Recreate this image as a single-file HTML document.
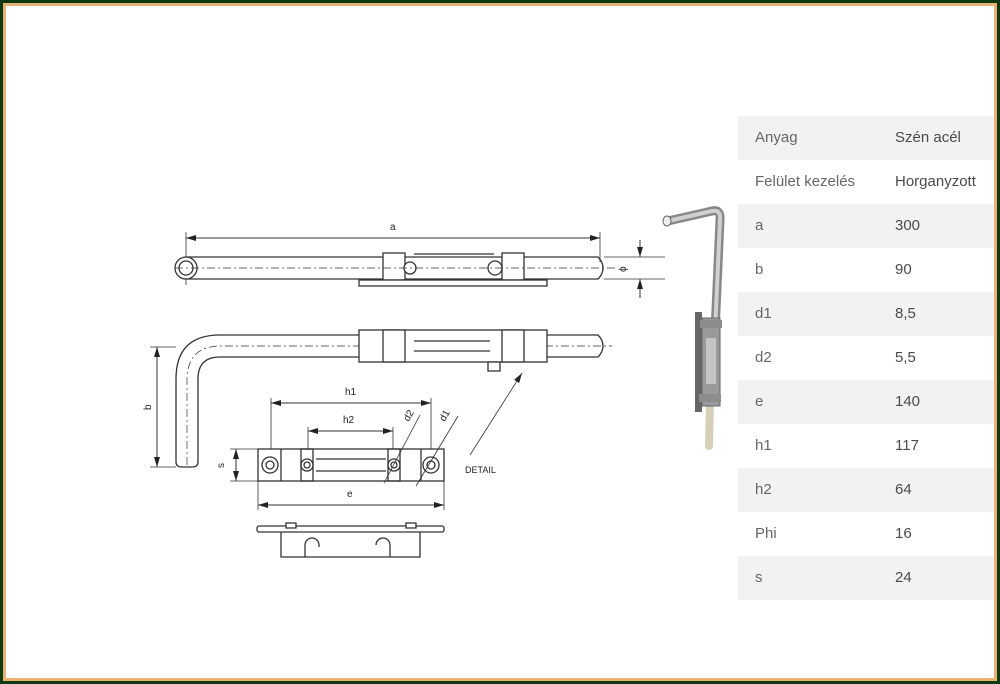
<!DOCTYPE html>
<html><head><meta charset="utf-8"><style>
html,body{margin:0;padding:0;}
body{width:1000px;height:684px;overflow:hidden;background:#0d3a10;font-family:"Liberation Sans",sans-serif;position:relative;}
.o{position:absolute;left:3px;top:3px;width:994px;height:678px;background:#e9b373;}
.i{position:absolute;left:6px;top:6px;width:988px;height:672px;background:#fff;}
.t{position:absolute;left:738px;top:116px;width:256px;overflow:hidden;}
.r{height:44px;line-height:44px;font-size:15px;color:#666;position:relative;}
.r:nth-child(odd){background:#f2f2f2;}
.r span{position:absolute;white-space:nowrap;}
.r .a{left:17px}.r .b{left:157px;color:#4a4a4a}
svg{position:absolute;left:0;top:0;}
</style></head><body>
<div class="o"></div><div class="i"></div>
<div class="t">
<div class="r"><span class="a">Anyag</span><span class="b">Szén acél</span></div>
<div class="r"><span class="a">Felület kezelés</span><span class="b">Horganyzott</span></div>
<div class="r"><span class="a">a</span><span class="b">300</span></div>
<div class="r"><span class="a">b</span><span class="b">90</span></div>
<div class="r"><span class="a">d1</span><span class="b">8,5</span></div>
<div class="r"><span class="a">d2</span><span class="b">5,5</span></div>
<div class="r"><span class="a">e</span><span class="b">140</span></div>
<div class="r"><span class="a">h1</span><span class="b">117</span></div>
<div class="r"><span class="a">h2</span><span class="b">64</span></div>
<div class="r"><span class="a">Phi</span><span class="b">16</span></div>
<div class="r"><span class="a">s</span><span class="b">24</span></div>
</div>
<svg width="1000" height="684" viewBox="0 0 1000 684">
<defs><marker id="ar" markerWidth="10" markerHeight="6" refX="10" refY="3" orient="auto-start-reverse" markerUnits="userSpaceOnUse"><path d="M0,0 L10,3 L0,6z" fill="#222"/></marker></defs>
<g fill="none" stroke="#333" stroke-width="1.3">
<line x1="186" y1="238" x2="600" y2="238" marker-start="url(#ar)" marker-end="url(#ar)" stroke-width="1"/>
<line x1="186" y1="232" x2="186" y2="285" stroke-width="0.8"/>
<line x1="600" y1="232" x2="600" y2="262" stroke-width="0.8"/>
<path d="M186,257 H598 Q603,262 603,268 Q603,274 598,279 H186"/>
<circle cx="186" cy="268" r="11" fill="#fff"/><circle cx="186" cy="268" r="7"/>
<rect x="383" y="253" width="22" height="27" fill="#fff"/>
<rect x="502" y="253" width="22" height="27" fill="#fff"/>
<line x1="414" y1="254" x2="494" y2="254"/>
<circle cx="410" cy="268" r="6" fill="#fff"/><circle cx="495" cy="268" r="7" fill="#fff"/>
<rect x="359" y="280" width="188" height="6" fill="#fff"/>
<line x1="175" y1="268" x2="615" y2="268" stroke-dasharray="8 3 2 3" stroke-width="0.7"/>
<line x1="604" y1="257" x2="665" y2="257" stroke-width="0.8"/><line x1="604" y1="279" x2="665" y2="279" stroke-width="0.8"/>
<line x1="640" y1="240" x2="640" y2="257" marker-end="url(#ar)" stroke-width="1"/>
<line x1="640" y1="298" x2="640" y2="279" marker-end="url(#ar)" stroke-width="1"/>
<path d="M220,335 H598 Q603,340 603,346 Q603,352 598,357 H220 Q198,357 198,379 V462 Q198,467 192,467 H182 Q176,467 176,462 V379 Q176,335 220,335z" fill="#fff"/>
<path d="M187,465 V380 Q187,346 221,346 H612" stroke-dasharray="8 3 2 3" stroke-width="0.7"/>
<rect x="359" y="330" width="188" height="32" fill="#fff"/>
<rect x="383" y="330" width="22" height="32" fill="#fff"/>
<rect x="502" y="330" width="22" height="32" fill="#fff"/>
<line x1="414" y1="341" x2="490" y2="341"/><line x1="414" y1="351" x2="490" y2="351"/>
<rect x="488" y="362" width="12" height="9" fill="#fff"/>
<line x1="150" y1="347" x2="176" y2="347" stroke-width="0.8"/><line x1="150" y1="467" x2="176" y2="467" stroke-width="0.8"/>
<line x1="157" y1="347" x2="157" y2="467" marker-start="url(#ar)" marker-end="url(#ar)" stroke-width="1"/>
<rect x="258" y="449" width="186" height="32" fill="#fff"/>
<line x1="281" y1="449" x2="281" y2="481"/><line x1="421" y1="449" x2="421" y2="481"/>
<line x1="316" y1="459" x2="386" y2="459"/><line x1="316" y1="471" x2="386" y2="471"/>
<rect x="301" y="449" width="12" height="32"/><rect x="388" y="449" width="12" height="32"/>
<circle cx="270" cy="465" r="8"/><circle cx="270" cy="465" r="4"/>
<circle cx="307" cy="465" r="6"/><circle cx="307" cy="465" r="3"/>
<circle cx="394" cy="465" r="6"/><circle cx="394" cy="465" r="3"/>
<circle cx="431" cy="465" r="8"/><circle cx="431" cy="465" r="4"/>
<line x1="271" y1="398" x2="271" y2="449" stroke-width="0.8"/><line x1="431" y1="398" x2="431" y2="449" stroke-width="0.8"/>
<line x1="271" y1="403" x2="431" y2="403" marker-start="url(#ar)" marker-end="url(#ar)" stroke-width="1"/>
<line x1="308" y1="427" x2="308" y2="449" stroke-width="0.8"/><line x1="393" y1="427" x2="393" y2="449" stroke-width="0.8"/>
<line x1="308" y1="431" x2="393" y2="431" marker-start="url(#ar)" marker-end="url(#ar)" stroke-width="1"/>
<line x1="258" y1="481" x2="258" y2="510" stroke-width="0.8"/><line x1="444" y1="481" x2="444" y2="510" stroke-width="0.8"/>
<line x1="258" y1="505" x2="444" y2="505" marker-start="url(#ar)" marker-end="url(#ar)" stroke-width="1"/>
<line x1="230" y1="449" x2="258" y2="449" stroke-width="0.8"/><line x1="230" y1="481" x2="258" y2="481" stroke-width="0.8"/>
<line x1="236" y1="449" x2="236" y2="481" marker-start="url(#ar)" marker-end="url(#ar)" stroke-width="1"/>
<line x1="384" y1="483" x2="420" y2="415" stroke-width="0.8"/>
<line x1="416" y1="486" x2="458" y2="416" stroke-width="0.8"/>
<line x1="470" y1="455" x2="522" y2="373" marker-end="url(#ar)" stroke-width="0.8"/>
<rect x="257" y="526" width="187" height="6" rx="2" fill="#fff"/>
<rect x="286" y="523" width="10" height="5" fill="#fff"/><rect x="406" y="523" width="10" height="5" fill="#fff"/>
<path d="M281,532 V557 H420 V532 M305,557 V545 A7,7 0 0 1 319,545 V547 M390,557 V545 A7,7 0 0 0 376,545"/>
</g>
<g font-family="Liberation Sans" font-size="10" fill="#222">
<text x="390" y="230">a</text>
<text x="619" y="271" transform="rotate(-90 623 268)">ϕ</text>
<text x="145" y="410" transform="rotate(-90 148 407)">b</text>
<text x="345" y="395">h1</text>
<text x="343" y="423">h2</text>
<text x="218" y="468" transform="rotate(-90 221 465)">s</text>
<text x="347" y="497">e</text>
<text x="404" y="420" transform="rotate(-60 408 417)">d2</text>
<text x="440" y="420" transform="rotate(-60 444 417)">d1</text>
<text x="465" y="473" font-size="9">DETAIL</text>
</g>
<g fill="none" stroke-linecap="round">
<path d="M668,221 L712,211 Q721,209 720,220 L712,400" stroke="#888" stroke-width="9"/>
<path d="M668,221 L712,211 Q721,209 720,220 L712,400" stroke="#d0d0d0" stroke-width="4"/>
<path d="M710,400 L709,446" stroke="#d8cfb8" stroke-width="8"/>
<rect x="702" y="318" width="18" height="88" fill="#9a9a9a" stroke="#666"/>
<rect x="695" y="312" width="7" height="100" fill="#666"/>
<rect x="706" y="338" width="10" height="46" fill="#c4c4c4"/>
<rect x="700" y="320" width="22" height="8" fill="#8c8c8c"/>
<rect x="699" y="394" width="22" height="8" fill="#8c8c8c"/>
</g>
<ellipse cx="667" cy="221" rx="4" ry="5" fill="#eee" stroke="#666"/>
</svg>
</body></html>
